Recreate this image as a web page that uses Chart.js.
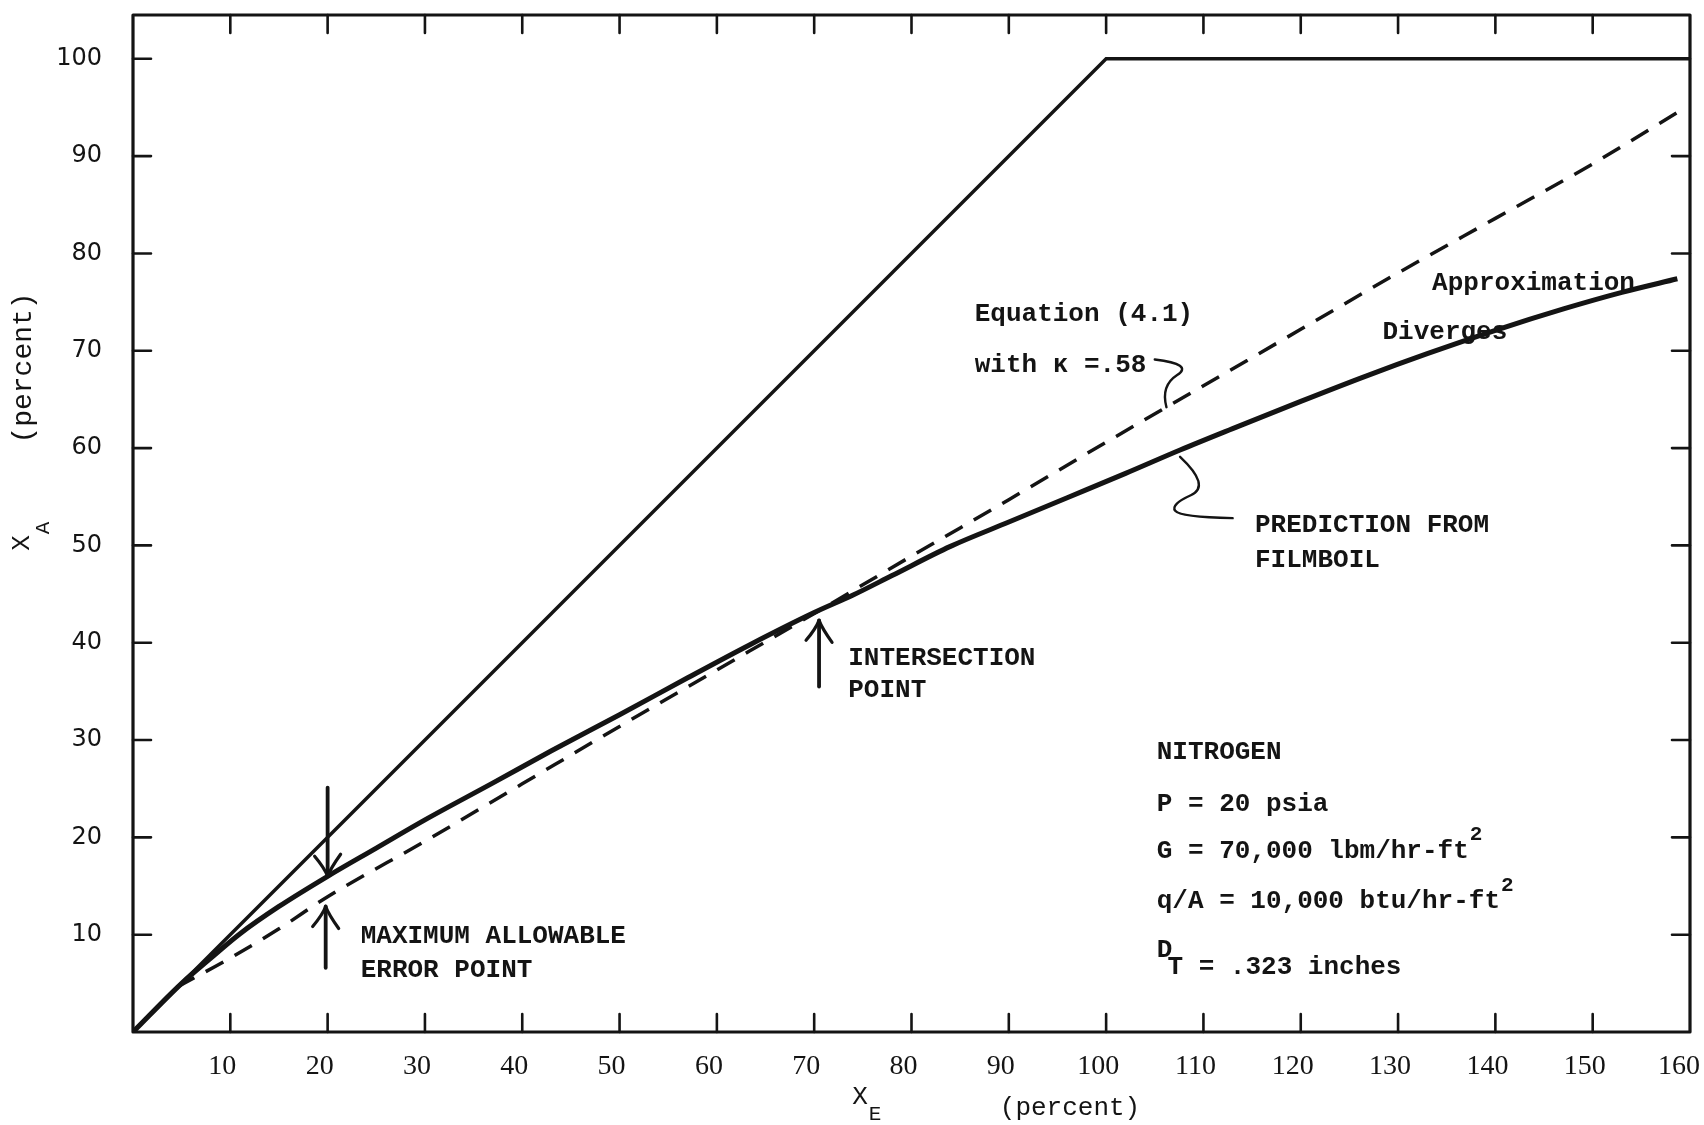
<!DOCTYPE html>
<html>
<head>
<meta charset="utf-8">
<title>X_A vs X_E</title>
<script src="https://cdn.jsdelivr.net/npm/chart.js@4.4.1/dist/chart.umd.min.js"></script>
<style>
html,body{margin:0;padding:0;background:#fff;}
#wrap{width:1704px;height:1125px;position:relative;}
</style>
</head>
<body>
<div id="wrap"><canvas id="c" width="1704" height="1125"></canvas></div>
<script>
// ---------------- data ----------------
const xTickValues = [10, 20, 30, 40, 50, 60, 70, 80, 90, 100, 110, 120, 130, 140, 150, 160];
const xTickLabels = ['10', '20', '30', '40', '50', '60', '70', '80', '90', '100', '110', '120', '130', '140', '150', '160'];
const yTickValues = [10, 20, 30, 40, 50, 60, 70, 80, 90, 100];
const yTickLabels = ['10', '20', '30', '40', '50', '60', '70', '80', '90', '100'];

// X_A = X_E limit line (capped at 100 %)
const limitX = [0, 100, 160];
const limitY = [0, 100, 100];

// Prediction from FILMBOIL
const filmboilX = [0, 5, 8, 11, 15, 20, 25, 30, 37, 43, 50, 57, 63.4, 70, 74, 78, 84, 90, 96, 102, 107.6, 113, 120, 126.7, 133, 140, 147, 153, 158.7];
const filmboilY = [0, 5, 7.6, 10.1, 12.9, 16.0, 18.9, 21.8, 25.6, 28.9, 32.6, 36.4, 39.8, 43.1, 44.9, 46.9, 49.9, 52.4, 54.9, 57.4, 59.8, 62.0, 64.8, 67.4, 69.7, 72.1, 74.3, 76.0, 77.4];

// Equation (4.1) with kappa = .58 (dashed)
const equationX = [4.5, 10, 15, 20, 30, 40, 50, 60, 70, 80, 90, 100, 110, 120, 130, 140, 150, 158.9];
const equationY = [4.6, 7.6, 10.6, 13.9, 19.6, 25.5, 31.4, 37.2, 43.0, 48.9, 54.7, 60.6, 66.4, 72.2, 78.0, 83.6, 89.2, 94.6];

const toPoints = (xs, ys) => xs.map((v, i) => ({ x: v, y: ys[i] }));

// ---------------- styling ----------------
const INK = '#141414';
const MONO = '"Liberation Mono", "DejaVu Sans Mono", monospace';
const TICK_LEN = 18;

// annotation texts, anchored in data units (left edge, vertical centre)
const notes = [
  { text: 'Equation (4.1)', x: 86.5, y: 73.7 },
  { text: 'with κ =.58', x: 86.5, y: 68.5 },
  { text: 'Approximation', x: 133.5, y: 76.9 },
  { text: 'Diverges', x: 128.4, y: 71.9 },
  { text: 'PREDICTION FROM', x: 115.3, y: 52.0 },
  { text: 'FILMBOIL', x: 115.3, y: 48.5 },
  { text: 'INTERSECTION', x: 73.5, y: 38.4 },
  { text: 'POINT', x: 73.5, y: 35.1 },
  { text: 'MAXIMUM ALLOWABLE', x: 23.4, y: 9.8 },
  { text: 'ERROR POINT', x: 23.4, y: 6.3 },
  { text: 'NITROGEN', x: 105.2, y: 28.7 },
  { text: 'P = 20 psia', x: 105.2, y: 23.4 },
  { text: 'G = 70,000 lbm/hr-ft', x: 105.2, y: 18.6, sup: '2' },
  { text: 'q/A = 10,000 btu/hr-ft', x: 105.2, y: 13.4, sup: '2' },
  { text: 'D', x: 105.2, y: 8.4 },
  { text: 'T = .323 inches', x: 106.3, y: 6.6 }
];

// arrows: shaft from (x, y0) to tip (x, y1), in data units
const arrows = [
  { x: 20.0, y0: 25.1, y1: 16.0 },
  { x: 19.8, y0: 6.6, y1: 12.9 },
  { x: 70.5, y0: 35.5, y1: 42.3 }
];

// squiggly leader lines (data units)
const leaders = [
  [[105.0, 69.1], [109.0, 68.6], [105.6, 66.4], [106.2, 64.2]],
  [[107.6, 59.1], [110.8, 56.1], [106.6, 54.2], [107.6, 52.9], [113.0, 52.8]]
];

// ---------------- plugin ----------------
const paperPlugin = {
  id: 'paper',
  beforeDraw(chart) {
    const ctx = chart.ctx;
    ctx.save();
    ctx.fillStyle = '#ffffff';
    ctx.fillRect(0, 0, chart.width, chart.height);
    ctx.restore();
  },
  afterDraw(chart) {
    const { ctx, chartArea: a } = chart;
    const sx = chart.scales.x, sy = chart.scales.y;
    const P = (x, y) => [sx.getPixelForValue(x), sy.getPixelForValue(y)];
    ctx.save();
    ctx.strokeStyle = INK;
    ctx.fillStyle = INK;
    ctx.lineCap = 'round';
    ctx.lineJoin = 'round';

    // frame
    ctx.lineWidth = 3.2;
    ctx.strokeRect(a.left, a.top, a.right - a.left, a.bottom - a.top);

    // inward tick marks on all four sides
    ctx.lineWidth = 2.6;
    ctx.beginPath();
    xTickValues.forEach(v => {
      const p = sx.getPixelForValue(v);
      if (p >= a.right - 2) return;
      ctx.moveTo(p, a.bottom); ctx.lineTo(p, a.bottom - TICK_LEN);
      ctx.moveTo(p, a.top); ctx.lineTo(p, a.top + TICK_LEN);
    });
    yTickValues.forEach(v => {
      const p = sy.getPixelForValue(v);
      ctx.moveTo(a.left, p); ctx.lineTo(a.left + TICK_LEN, p);
      ctx.moveTo(a.right, p); ctx.lineTo(a.right - TICK_LEN, p);
    });
    ctx.stroke();

    // x tick labels
    ctx.font = '28px "Liberation Serif", "DejaVu Serif", serif';
    ctx.textAlign = 'center';
    ctx.textBaseline = 'middle';
    xTickValues.forEach((v, i) => {
      let cx = sx.getPixelForValue(v) - 8;
      const w = ctx.measureText(xTickLabels[i]).width;
      if (cx + w / 2 > chart.width - 4) cx = chart.width - 4 - w / 2;
      ctx.fillText(xTickLabels[i], cx, a.bottom + 35);
    });

    // axis titles
    ctx.font = '26px ' + MONO;
    ctx.textAlign = 'center';
    ctx.fillText('X', 860, 1097);
    ctx.font = '21px ' + MONO;
    ctx.fillText('E', 875, 1114);
    ctx.font = '26px ' + MONO;
    ctx.fillText('(percent)', 1070, 1108);

    ctx.save();
    ctx.translate(22, 543);
    ctx.rotate(-Math.PI / 2);
    ctx.font = '26px ' + MONO;
    ctx.fillText('X', 0, 0);
    ctx.font = '21px ' + MONO;
    ctx.fillText('A', 15, 21);
    ctx.restore();
    ctx.save();
    ctx.translate(24, 368);
    ctx.rotate(-Math.PI / 2);
    ctx.font = '28px ' + MONO;
    ctx.fillText('(percent)', 0, 0);
    ctx.restore();

    // annotation texts
    ctx.textAlign = 'left';
    ctx.textBaseline = 'middle';
    notes.forEach(n => {
      const [px, py] = P(n.x, n.y);
      ctx.font = 'bold 26px ' + MONO;
      ctx.fillText(n.text, px, py);
      if (n.sup) {
        const w = ctx.measureText(n.text).width;
        ctx.font = 'bold 21px ' + MONO;
        ctx.fillText(n.sup, px + w + 1, py - 16);
      }
    });

    // leader squiggles
    ctx.lineWidth = 2.4;
    leaders.forEach(pts => {
      const p = pts.map(q => P(q[0], q[1]));
      ctx.beginPath();
      ctx.moveTo(p[0][0], p[0][1]);
      for (let i = 1; i < p.length - 1; i++) {
        const last = i === p.length - 2;
        const mx = last ? p[i + 1][0] : (p[i][0] + p[i + 1][0]) / 2;
        const my = last ? p[i + 1][1] : (p[i][1] + p[i + 1][1]) / 2;
        ctx.quadraticCurveTo(p[i][0], p[i][1], mx, my);
      }
      ctx.stroke();
    });

    // arrows
    arrows.forEach(ar => {
      const [x0, y0] = P(ar.x, ar.y0);
      const [x1, y1] = P(ar.x, ar.y1);
      const dir = y1 > y0 ? 1 : -1; // +1 pointing down
      ctx.lineWidth = 3.8;
      ctx.beginPath();
      ctx.moveTo(x0, y0); ctx.lineTo(x1, y1);
      ctx.stroke();
      ctx.lineWidth = 3.2;
      ctx.beginPath();
      ctx.moveTo(x1 - 13, y1 - dir * 20);
      ctx.quadraticCurveTo(x1 - 3, y1 - dir * 8, x1, y1);
      ctx.moveTo(x1 + 13, y1 - dir * 22);
      ctx.quadraticCurveTo(x1 + 3, y1 - dir * 8, x1, y1);
      ctx.stroke();
    });

    ctx.restore();
  }
};

// ---------------- chart ----------------
new Chart(document.getElementById('c'), {
  type: 'scatter',
  data: {
    datasets: [
      {
        label: 'X_A = X_E',
        data: toPoints(limitX, limitY),
        showLine: true,
        borderColor: INK,
        borderWidth: 3.4,
        pointRadius: 0,
        tension: 0
      },
      {
        label: 'Prediction from FILMBOIL',
        data: toPoints(filmboilX, filmboilY),
        showLine: true,
        borderColor: INK,
        borderWidth: 5,
        pointRadius: 0,
        cubicInterpolationMode: 'monotone'
      },
      {
        label: 'Equation (4.1) with κ = .58',
        data: toPoints(equationX, equationY),
        showLine: true,
        borderColor: INK,
        borderWidth: 3.5,
        borderDash: [20, 13],
        borderCapStyle: 'butt',
        pointRadius: 0,
        cubicInterpolationMode: 'monotone'
      }
    ]
  },
  options: {
    responsive: false,
    animation: false,
    devicePixelRatio: 1,
    layout: { padding: { left: 0, right: 14, top: 15, bottom: 0 } },
    plugins: {
      legend: { display: false },
      tooltip: { enabled: false },
      title: { display: false }
    },
    scales: {
      x: {
        type: 'linear',
        min: 0,
        max: 160,
        grid: { display: false },
        border: { display: false },
        ticks: { display: false },
        afterBuildTicks: s => { s.ticks = xTickValues.map(v => ({ value: v })); },
        afterFit: s => { s.height = 93; s.paddingLeft = 0; s.paddingRight = 0; }
      },
      y: {
        type: 'linear',
        min: 0,
        max: 104.5,
        grid: { display: false },
        border: { display: false },
        afterBuildTicks: s => { s.ticks = yTickValues.map(v => ({ value: v })); },
        ticks: {
          color: INK,
          padding: 23,
          font: { family: '"DejaVu Sans", sans-serif', size: 24 },
          callback: (v) => { const i = yTickValues.indexOf(v); return i >= 0 ? yTickLabels[i] : ''; }
        },
        afterFit: s => { s.width = 133; s.paddingTop = 0; s.paddingBottom = 0; }
      }
    }
  },
  plugins: [paperPlugin]
});
</script>
</body>
</html>
